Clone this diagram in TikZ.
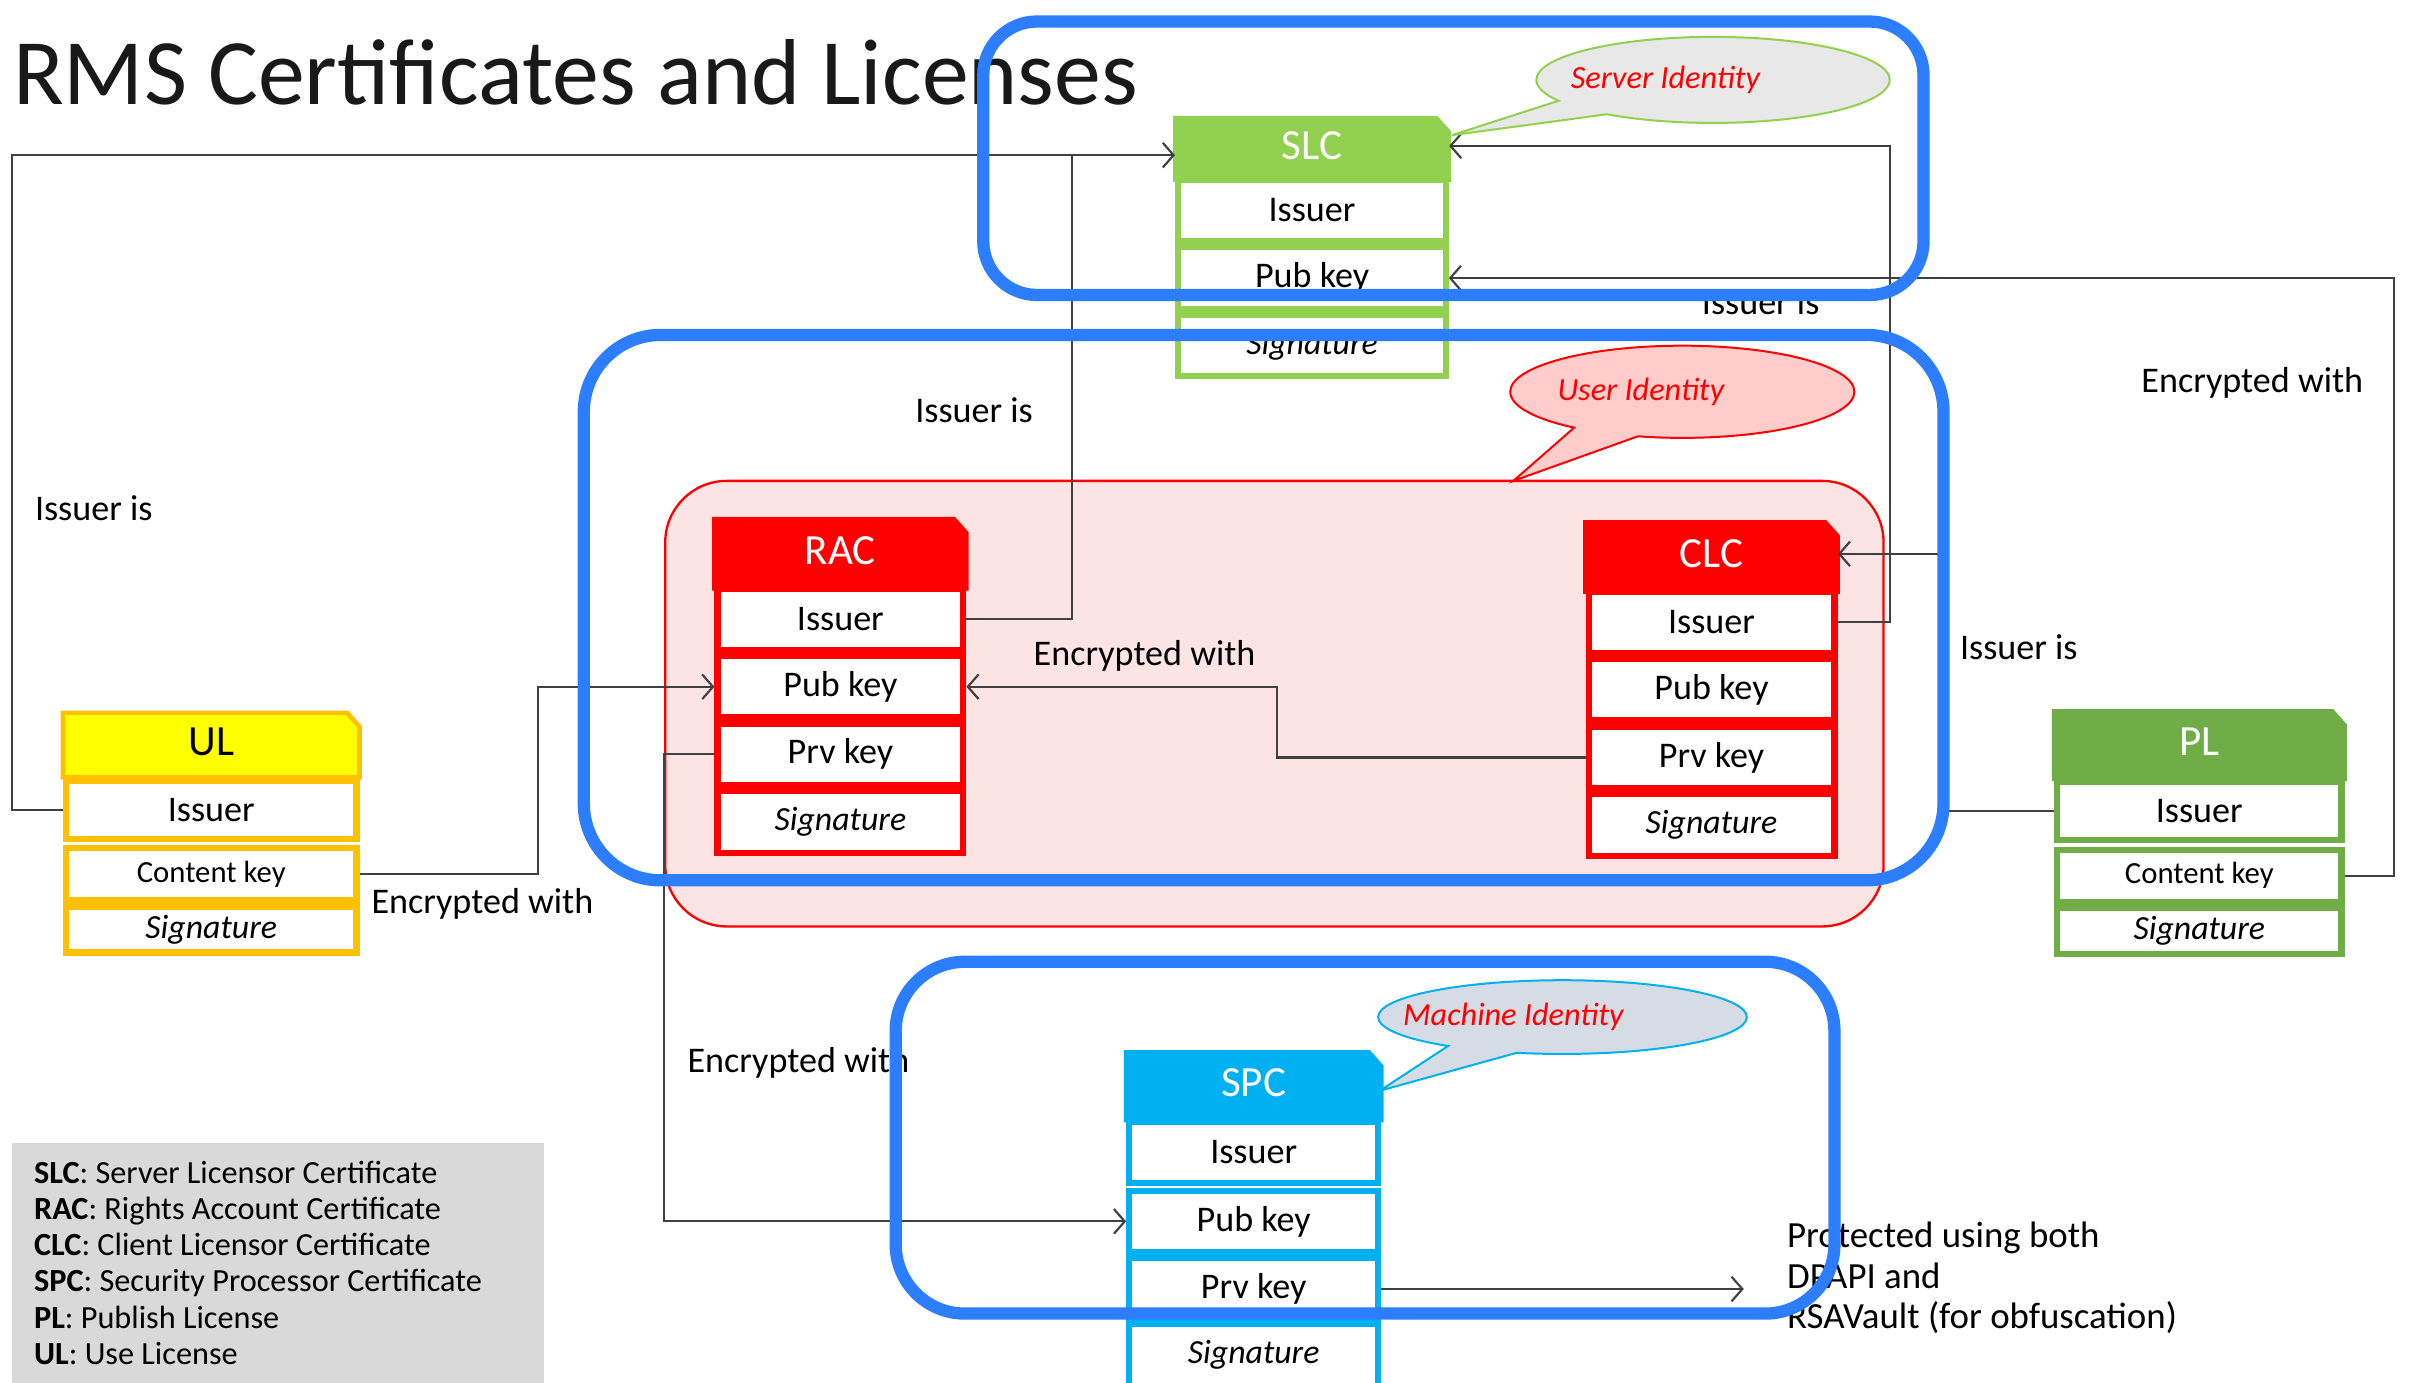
\documentclass[tikz,border=0pt]{standalone}
\usepackage{fontspec}
\setmainfont{Carlito}
\usepackage{tikz}
\usetikzlibrary{positioning}
\usetikzlibrary{arrows.meta,shapes}
\usetikzlibrary{shapes.callouts}

\definecolor{slcgreen}{HTML}{92D050}
\definecolor{racred}{HTML}{FF0000}
\definecolor{ulyellow}{HTML}{FFFF00}
\definecolor{ulgold}{HTML}{FFC000}
\definecolor{plgreen}{HTML}{70AD47}
\definecolor{spcblue}{HTML}{00B0F0}
\definecolor{frameblue}{RGB}{45,125,255}
\definecolor{pinkfill}{HTML}{FDE4E4}
\definecolor{userfill}{HTML}{FFCCCC}
\definecolor{serverfill}{HTML}{E8E8E8}
\definecolor{machinefill}{HTML}{D6DCE5}
\definecolor{legendgray}{HTML}{D9D9D9}
\definecolor{linegray}{HTML}{404040}

\begin{document}
\begin{tikzpicture}[x=1pt, y=-1pt,
  cell/.style={fill=white, line width=4pt, minimum height=40, inner sep=0pt, font=\fontsize{23.5}{26}\selectfont},
  keycell/.style={cell, font=\fontsize{20}{22}\selectfont},
  sigcell/.style={cell, font=\fontsize{22}{24}\selectfont\itshape},
  hdr/.style={inner sep=0pt, font=\fontsize{28}{30}\selectfont},
  conn/.style={draw=linegray, line width=1.4pt},
  arr/.style={conn, -{Straight Barb[length=7pt,width=16pt]}},
  lbl/.style={font=\fontsize{23.5}{26.5}\selectfont},
  frame/.style={draw=frameblue, line width=8pt},
  bubble/.style={ellipse callout, line width=1.3pt, callout pointer arc=24, inner sep=0pt},
  btext/.style={text=racred, font=\fontsize{21}{24}\selectfont\itshape}]

 \useasboundingbox (0,0) rectangle (1568,900);

 % title
 \node[anchor=base west, text=black!90, font=\fontsize{61}{70}\selectfont] (title) at (5,68) {RMS Certificates and Licenses};

 % user identity region
 \draw[fill=pinkfill, draw=racred, line width=1.5pt, rounded corners=40pt] (433,313) rectangle (1226,603);

 % headers
 \foreach \nm/\txt/\x/\y/\w/\h/\c/\d/\tc in {slc/SLC/765/77/178/40/slcgreen/slcgreen/white,
     rac/RAC/465/338/164/45/racred/racred/white, clc/CLC/1032/340/164/45/racred/racred/white,
     ul/UL/41/464/193/42/ulyellow/ulgold/black, pl/PL/1337/463/189/44/plgreen/plgreen/white,
     spc/SPC/733/685/166/44/spcblue/spcblue/white} {
   \filldraw[fill=\c, draw=\d, line width=3pt] (\x,\y) -- (\x+\w-8,\y) -- (\x+\w,\y+9) -- (\x+\w,\y+\h) -- (\x,\y+\h) -- cycle;
   \node[hdr, text=\tc, minimum width=\w, minimum height=\h-4] (\nm) at (\x+\w/2,\y+\h/2-2) {\txt};
 }

 % cells
 \foreach \i/\y/\s/\name in {1/137/cell/Issuer, 2/181/cell/Pub key, 3/225/sigcell/Signature}
   \node[\s, draw=slcgreen, minimum width=174] (slc\i) at (854,\y) {\name};
 \foreach \i/\y/\s/\name in {1/403/cell/Issuer, 2/447/cell/Pub key, 3/491/cell/Prv key, 4/535/sigcell/Signature}
   \node[\s, draw=racred, minimum width=160] (rac\i) at (547,\y) {\name};
 \foreach \i/\y/\s/\name in {1/405/cell/Issuer, 2/449/cell/Pub key, 3/493/cell/Prv key, 4/537/sigcell/Signature}
   \node[\s, draw=racred, minimum width=160] (clc\i) at (1114,\y) {\name};
 \foreach \i/\y/\s/\name in {1/750/cell/Issuer, 2/795/cell/Pub key, 3/839/cell/Prv key, 4/882/sigcell/Signature}
   \node[\s, draw=spcblue, minimum width=162] (spc\i) at (816,\y) {\name};
 \foreach \i/\y/\h/\s/\name in {1/527/38/cell/Issuer, 2/569/34/keycell/Content key, 3/605/30/sigcell/Signature}
   \node[\s, draw=ulgold, minimum width=189, minimum height=\h] (ul\i) at (137.5,\y) {\name};
 \foreach \i/\y/\h/\s/\name in {1/528/38/cell/Issuer, 2/570/34/keycell/Content key, 3/606/30/sigcell/Signature}
   \node[\s, draw=plgreen, minimum width=185, minimum height=\h] (pl\i) at (1431.5,\y) {\name};

 % connectors
 \draw[arr] (ul1.west) -- ++(-33,0) |- ([yshift=-6pt]slc.west);
 \draw[conn] (rac1.east) -| ([xshift=-67pt,yshift=-6pt]slc.west);
 \draw[arr] (clc1.east) -- ++(34,0) |- (slc.east);
 \draw[arr] (pl1.west) -- ++(-75,0) |- (clc.east);
 \draw[arr] (pl2.east) -- ++(32,0) |- (slc2.east);
 \draw[arr] (clc3.west) -- ++(-201,0) |- (rac2.east);
 \draw[arr] (ul2.east) -- ++(116,0) |- (rac2.west);
 \draw[arr] (rac3.west) -- ++(-33,0) |- (spc2.west);
 \coordinate (vault) at (1135,839);
 \draw[arr] (spc3.east) -- (vault);

 % labels
 \node[lbl] (iss1) at (61,331) {Issuer is};
 \node[lbl] (iss2) at (634,267) {Issuer is};
 \node[lbl] (iss3) at (1146,197) {Issuer is};
 \node[lbl] (iss4) at (1314,421) {Issuer is};
 \node[lbl] (enc1) at (1466,249) {Encrypted with};
 \node[lbl] (enc2) at (745,427) {Encrypted with};
 \node[lbl] (enc3) at (314,588) {Encrypted with};
 \node[lbl, anchor=west] (enc4) at (444,692) {Encrypted with};
 \node[lbl, anchor=north west, align=left, inner sep=0pt, font=\fontsize{24}{26.5}\selectfont] (prot) at (1163,795) {Protected using both\\DPAPI and\\RSAVault (for obfuscation)};

 % callouts
 \node[bubble, fill=serverfill, draw=slcgreen, minimum width=230, minimum height=56, callout absolute pointer={(945,88)}] (srvid) at (1115,52) {};
 \node[btext] (srvtxt) at (1084,52) {Server Identity};
 \node[bubble, fill=userfill, draw=racred, minimum width=224, minimum height=60, callout absolute pointer={(985,313)}] (usrid) at (1095,255) {};
 \node[btext] (usrtxt) at (1068,255) {User Identity};
 \node[bubble, fill=machinefill, draw=spcblue, minimum width=240, minimum height=48, callout absolute pointer={(898,710)}] (macid) at (1017,662) {};
 \node[btext] (mactxt) at (985,662) {Machine Identity};

 % legend
 \fill[legendgray] (8,744) rectangle (354,905);
 \foreach \i/\ab/\full in {0/SLC/Server Licensor Certificate, 1/RAC/Rights Account Certificate,
     2/CLC/Client Licensor Certificate, 3/SPC/Security Processor Certificate,
     4/PL/Publish License, 5/UL/Use License}
   \node[anchor=base west, inner sep=0pt, font=\fontsize{21}{23}\selectfont] (leg\i) at (22,770+\i*23.6) {\textbf{\ab}: \full};

 % identity frames
 \draw[frame, rounded corners=35pt] (640,14) rectangle (1252,192);
 \draw[frame, rounded corners=50pt] (380,218) rectangle (1265,573);
 \draw[frame, rounded corners=45pt] (583,626) rectangle (1194,855);

\end{tikzpicture}
\end{document}
